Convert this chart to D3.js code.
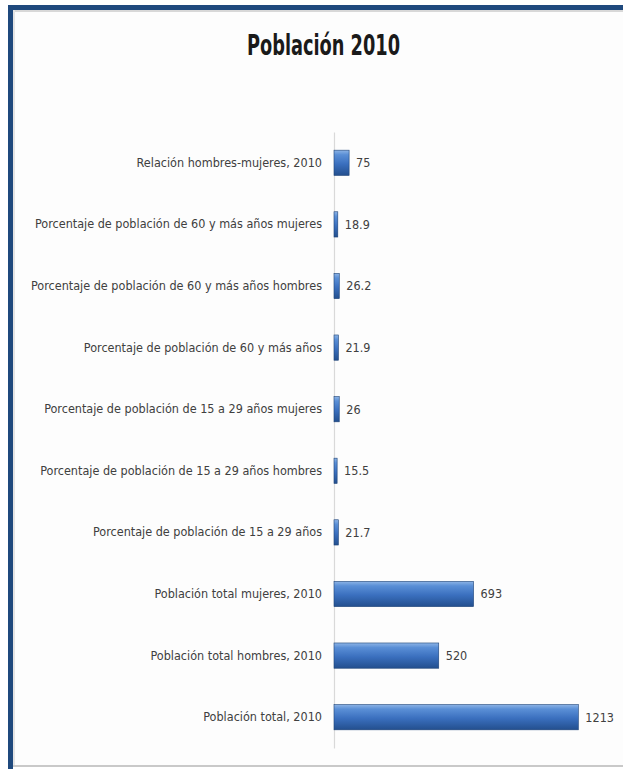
<!DOCTYPE html>
<html>
<head>
<meta charset="utf-8">
<script src="https://cdn.jsdelivr.net/npm/d3@7"></script>
<style>
  html, body { margin: 0; padding: 0; background: #ffffff; }
  svg { display: block; }
</style>
</head>
<body>
<script>
const title = "Población 2010";
const categories = [
  "Relación hombres-mujeres, 2010",
  "Porcentaje de población de 60 y más años mujeres",
  "Porcentaje de población de 60 y más años hombres",
  "Porcentaje de población de 60 y más años",
  "Porcentaje de población de 15 a 29 años mujeres",
  "Porcentaje de población de 15 a 29 años hombres",
  "Porcentaje de población de 15 a 29 años",
  "Población total mujeres, 2010",
  "Población total hombres, 2010",
  "Población total, 2010"
];
const values = [75, 18.9, 26.2, 21.9, 26, 15.5, 21.7, 693, 520, 1213];
const valueLabels = ["75", "18.9", "26.2", "21.9", "26", "15.5", "21.7", "693", "520", "1213"];

const W = 623, H = 769;
const FONT = "'DejaVu Sans Condensed', 'Liberation Sans', sans-serif";
const svg = d3.select("body").append("svg").attr("width", W).attr("height", H);

const defs = svg.append("defs");
const grad = defs.append("linearGradient").attr("id", "barGrad")
  .attr("x1", 0).attr("y1", 0).attr("x2", 0).attr("y2", 1);
grad.append("stop").attr("offset", "0%").attr("stop-color", "#8db4e6");
grad.append("stop").attr("offset", "18%").attr("stop-color", "#5a8fd6");
grad.append("stop").attr("offset", "55%").attr("stop-color", "#3a6fbe");
grad.append("stop").attr("offset", "100%").attr("stop-color", "#234f8e");

// background & frame
svg.append("rect").attr("x", 0).attr("y", 0).attr("width", W).attr("height", H).attr("fill", "#ffffff");
svg.append("rect").attr("x", 12).attr("y", 10).attr("width", W - 12).attr("height", 756).attr("fill", "#fdfdfd");
svg.append("rect").attr("x", 12).attr("y", 10).attr("width", W - 12).attr("height", 2).attr("fill", "#d8d8d8");
svg.append("rect").attr("x", 13).attr("y", 10).attr("width", 2).attr("height", 756).attr("fill", "#e4e4e4");
svg.append("rect").attr("x", 12).attr("y", 765).attr("width", W - 12).attr("height", 2).attr("fill", "#c9c9c9");
svg.append("rect").attr("x", 8).attr("y", 5).attr("width", W - 8).attr("height", 5).attr("fill", "#1f497d");
svg.append("rect").attr("x", 8).attr("y", 5).attr("width", 5).attr("height", H - 5).attr("fill", "#1f497d");

svg.append("text")
  .attr("x", 323.5).attr("y", 55)
  .attr("text-anchor", "middle")
  .attr("font-family", FONT)
  .attr("font-weight", "bold")
  .attr("font-size", 28)
  .attr("textLength", 153)
  .attr("lengthAdjust", "spacingAndGlyphs")
  .attr("fill", "#1a1a1a")
  .text(title);

const x = d3.scaleLinear().domain([0, 1400]).range([334, 616]);
const y = d3.scaleBand().domain(categories).range([132, 748]).paddingInner(0.59).paddingOuter(0.295);

const yAxis = d3.axisLeft(y).tickSize(0).tickPadding(12);
const gAxis = svg.append("g").attr("transform", `translate(${x(0)},0)`).call(yAxis);
gAxis.select(".domain").attr("stroke", "#d9d9d9").attr("stroke-width", 1.2);
gAxis.selectAll("text")
  .attr("font-family", FONT)
  .attr("font-size", 12.5)
  .attr("fill", "#404040");

const rows = categories.map((c, i) => ({ c, v: values[i], l: valueLabels[i] }));

svg.append("g").selectAll("rect").data(rows).join("rect")
  .attr("x", x(0))
  .attr("y", d => y(d.c))
  .attr("width", d => x(d.v) - x(0))
  .attr("height", y.bandwidth())
  .attr("fill", "url(#barGrad)")
  .attr("stroke", "#1d4378")
  .attr("stroke-width", 0.6);

svg.append("g").selectAll("text").data(rows).join("text")
  .attr("x", d => x(d.v) + 7)
  .attr("y", d => y(d.c) + y.bandwidth() / 2)
  .attr("dy", "0.35em")
  .attr("font-family", FONT)
  .attr("font-size", 12.5)
  .attr("fill", "#404040")
  .text(d => d.l);
</script>
</body>
</html>
